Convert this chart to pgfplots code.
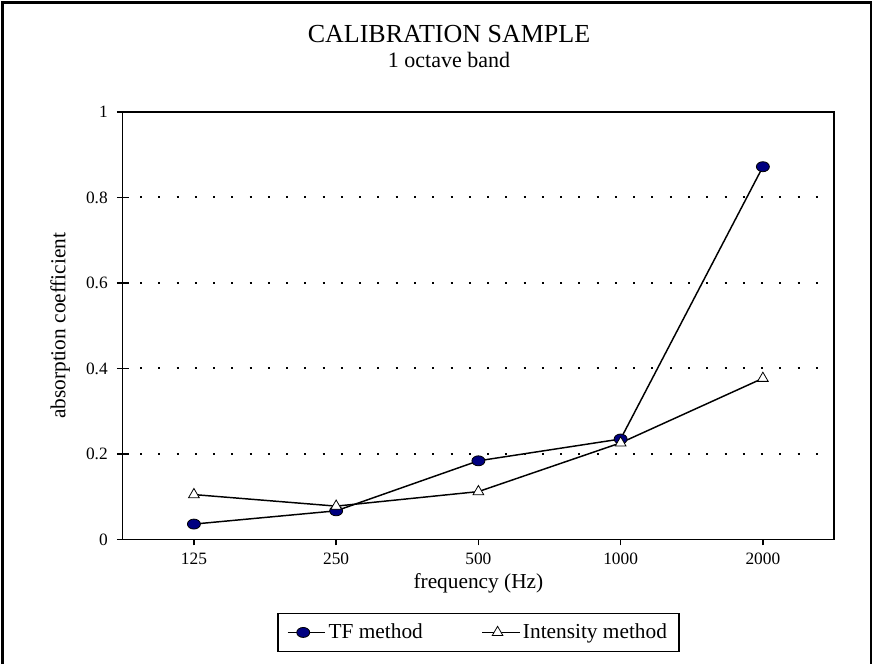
\documentclass[border=0pt]{standalone}
\usepackage{pgfplots}
\pgfplotsset{compat=1.18}
\usepackage{fontspec}
\setmainfont{Liberation Serif}
\definecolor{navy}{RGB}{0,0,128}
\begin{document}
\begin{tikzpicture}
\begin{scope}[x=0.75pt,y=0.75pt]
\useasboundingbox (0,0) rectangle (877,664);
\draw[line width=2pt] (2.5,0) -- (2.5,661.5) -- (871,661.5) -- (871,0);
\node[font=\fontsize{19.5}{22}\selectfont] at (449,630) {CALIBRATION SAMPLE};
\node[font=\fontsize{16.5}{19}\selectfont] at (449,604) {1 octave band};
\end{scope}
\begin{axis}[
  at={(92.1pt,93.4pt)}, anchor=south west,
  width=533.4pt, height=320.6pt, scale only axis,
  xmin=-0.5, xmax=4.5, ymin=0, ymax=1,
  xtick={0,1,2,3,4}, xticklabels={125,250,500,1000,2000},
  ytick={0,0.2,0.4,0.6,0.8,1}, yticklabels={0,0.2,0.4,0.6,0.8,1},
  axis line style={line width=1pt},
  every tick/.style={black, line width=1pt},
  x tick style={/pgfplots/major tick length=4.5pt},
  xtick align=outside, ytick align=center,
  y tick style={/pgfplots/major tick length=9pt},
  xtick pos=bottom, ytick pos=left,
  /pgf/number format/assume math mode=true,
  tick label style={font=\fontsize{13}{15}\selectfont},
  xticklabel style={anchor=north, inner sep=0pt},
  yticklabel style={anchor=east, inner sep=0pt},
  xticklabel shift=5.5pt,
  yticklabel shift=9pt,
  xlabel={frequency (Hz)},
  xlabel style={font=\fontsize{16}{19}\selectfont, at={(axis description cs:0.5,-0.1018)}, anchor=center},
  ylabel={absorption coefficient},
  ylabel style={font=\fontsize{16}{19}\selectfont, at={(axis description cs:-0.088,0.5)}, anchor=center, rotate=0},
  legend columns=2,
  legend style={at={(0.5,-0.2175)}, anchor=center, draw=black, line width=1pt,
    font=\fontsize{16}{19}\selectfont, inner xsep=7pt, inner ysep=6pt,
    /tikz/every even column/.append style={column sep=42pt}},
  legend image code/.code={
    \path (0pt,0pt) -- (28pt,0pt);
    \draw[#1] (0pt,0pt) -- (23pt,0pt);
    \draw[#1, only marks] plot coordinates {(11.5pt,0pt)};
  },
  clip=false,
]
\pgfplotsinvokeforeach{0.2,0.4,0.6,0.8}{
  \draw[line width=1.5pt, dash pattern=on 1.5pt off 12.2pt] (axis cs:-0.379,#1) -- (axis cs:4.39,#1);
}
\addplot[black, line width=1.1pt, mark=*, mark size=3.75pt,
  mark options={xscale=1.3, fill=navy, draw=black, line width=0.6pt}]
  coordinates {(0,0.036) (1,0.067) (2,0.184) (3,0.235) (4,0.872)};
\addlegendentry{TF method}
\addplot[black, line width=1.1pt, mark=triangle*, mark size=4.6pt,
  mark options={fill=white, draw=black, line width=0.6pt}]
  coordinates {(0,0.105) (1,0.078) (2,0.112) (3,0.226) (4,0.377)};
\addlegendentry{Intensity method}
\end{axis}
\end{tikzpicture}
\end{document}
